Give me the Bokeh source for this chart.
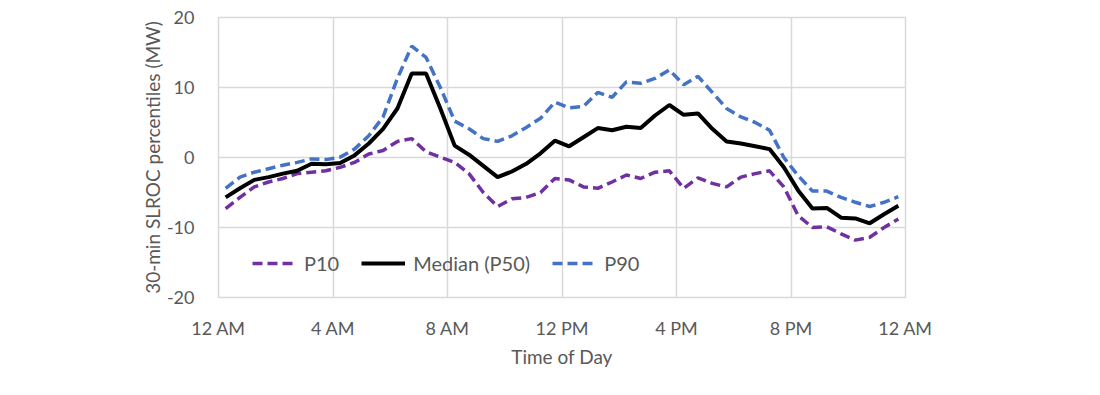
from bokeh.plotting import figure
from bokeh.models import Range1d, FixedTicker, Legend, LegendItem
from bokeh.embed import file_html
from bokeh.resources import INLINE

# half-hour slots (hours of day, plotted at mid-slot)
hours = [0.25, 0.75, 1.25, 1.75, 2.25, 2.75, 3.25, 3.75, 4.25, 4.75, 5.25, 5.75,
         6.25, 6.75, 7.25, 7.75, 8.25, 8.75, 9.25, 9.75, 10.25, 10.75, 11.25, 11.75,
         12.25, 12.75, 13.25, 13.75, 14.25, 14.75, 15.25, 15.75, 16.25, 16.75, 17.25, 17.75,
         18.25, 18.75, 19.25, 19.75, 20.25, 20.75, 21.25, 21.75, 22.25, 22.75, 23.25, 23.75]

p10 = [-7.3, -5.7, -4.2, -3.5, -3.0, -2.3, -2.1, -1.9, -1.4, -0.7, 0.5, 1.0,
       2.3, 2.7, 0.8, 0.05, -0.7, -2.3, -5.0, -7.0, -5.9, -5.7, -5.0, -3.0,
       -3.2, -4.2, -4.4, -3.5, -2.5, -3.0, -2.1, -1.9, -4.4, -2.9, -3.7, -4.2,
       -2.8, -2.3, -1.9, -4.2, -8.3, -10.0, -9.9, -10.9, -11.8, -11.4, -10.0, -8.8]

p50 = [-5.7, -4.4, -3.2, -2.8, -2.3, -1.9, -0.9, -0.95, -0.8, 0.3, 2.0, 4.1,
       7.0, 12.0, 12.0, 7.0, 1.7, 0.4, -1.2, -2.8, -2.0, -0.9, 0.6, 2.4,
       1.6, 2.9, 4.2, 3.9, 4.4, 4.2, 6.0, 7.5, 6.1, 6.3, 4.1, 2.3,
       2.0, 1.6, 1.2, -1.4, -4.7, -7.3, -7.2, -8.6, -8.7, -9.4, -8.1, -6.9]

p90 = [-4.4, -2.8, -2.1, -1.6, -1.1, -0.7, -0.2, -0.3, 0.05, 1.2, 3.1, 5.8,
       11.3, 15.9, 14.3, 10.0, 5.2, 4.1, 2.7, 2.3, 3.1, 4.3, 5.6, 7.9,
       7.1, 7.3, 9.3, 8.6, 10.8, 10.6, 11.3, 12.5, 10.4, 11.6, 9.3, 7.0,
       5.8, 5.0, 3.9, 0.0, -2.6, -4.8, -4.8, -5.7, -6.4, -7.0, -6.4, -5.6]

x_ticks = [0, 4, 8, 12, 16, 20, 24]
x_tick_labels = ["12 AM", "4 AM", "8 AM", "12 PM", "4 PM", "8 PM", "12 AM"]
y_ticks = [-20, -10, 0, 10, 20]
y_tick_labels = ["-20", "-10", "0", "10", "20"]

series_names = ["P10", "Median (P50)", "P90"]

FONT = "Lato"
GREY = "#595959"

p = figure(width=1084, height=379, output_backend="svg", toolbar_location=None,
           x_range=Range1d(0, 24), y_range=Range1d(-20, 20),
           min_border_left=218, min_border_right=179, min_border_top=17,
           min_border_bottom=82)
p.background_fill_color = "white"
p.border_fill_color = "white"
p.outline_line_color = "#d9d9d9"
p.outline_line_width = 1.5

r10 = p.line(hours, p10, line_color="#7030A0", line_width=3.5, line_dash="10 5")
r50 = p.line(hours, p50, line_color="black", line_width=4)
r90 = p.line(hours, p90, line_color="#4472C4", line_width=3.5, line_dash="10 5")

for ax in (p.xaxis[0], p.yaxis[0]):
    ax.axis_line_color = None
    ax.major_tick_line_color = None
    ax.minor_tick_line_color = None
    ax.major_label_text_font = FONT
    ax.major_label_text_font_size = "18px"
    ax.major_label_text_color = GREY
    ax.axis_label_text_font = FONT
    ax.axis_label_text_font_style = "normal"
    ax.axis_label_text_color = GREY

p.xaxis.ticker = FixedTicker(ticks=x_ticks)
p.xaxis.major_label_overrides = {t: l for t, l in zip(x_ticks, x_tick_labels)}
p.xaxis.major_label_standoff = 13
p.xaxis.axis_label = "Time of Day"
p.xaxis.axis_label_text_font_size = "19px"
p.xaxis.axis_label_standoff = 3

p.yaxis.ticker = FixedTicker(ticks=y_ticks)
p.yaxis.major_label_overrides = {t: l for t, l in zip(y_ticks, y_tick_labels)}
p.yaxis.major_label_standoff = 18
p.yaxis.axis_label = "30-min SLROC percentiles (MW)"
p.yaxis.axis_label_text_font_size = "19px"
p.yaxis.axis_label_standoff = 0

p.xgrid.ticker = FixedTicker(ticks=x_ticks)
p.ygrid.ticker = FixedTicker(ticks=y_ticks)
p.xgrid.grid_line_color = "#d9d9d9"
p.ygrid.grid_line_color = "#d9d9d9"
p.xgrid.grid_line_width = 1.5
p.ygrid.grid_line_width = 1.5

legend = Legend(items=[LegendItem(label=series_names[0], renderers=[r10]),
                       LegendItem(label=series_names[1], renderers=[r50]),
                       LegendItem(label=series_names[2], renderers=[r90])],
                orientation="horizontal", location=(34, 22),
                border_line_color=None, background_fill_alpha=0,
                label_text_font=FONT, label_text_font_size="20px",
                label_text_color=GREY, glyph_width=44, label_standoff=8,
                spacing=22, padding=5, margin=0)
p.add_layout(legend)

open("out.html", "w").write(file_html(p, INLINE))
